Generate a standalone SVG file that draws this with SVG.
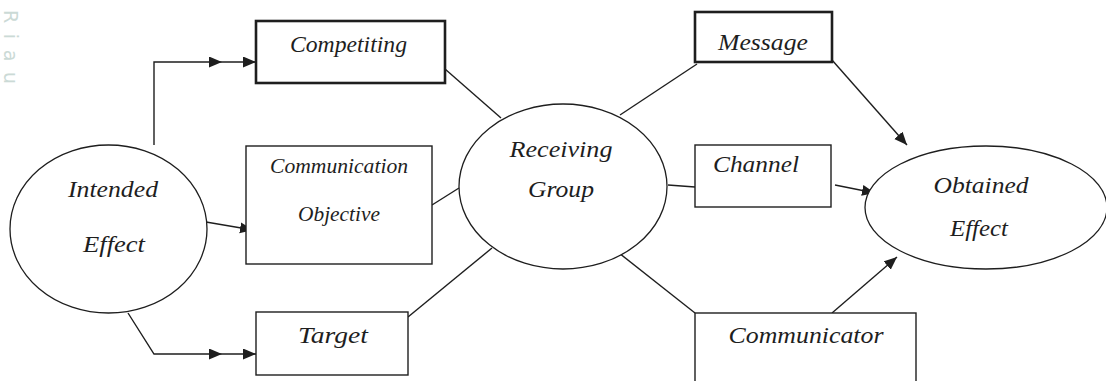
<svg xmlns="http://www.w3.org/2000/svg" width="1106" height="381" viewBox="0 0 1106 381">
  <style>
    .bg { fill: #ffffff; }
    .ell { fill: #ffffff; stroke: #1e1e1e; stroke-width: 1.3; }
    .box { fill: #ffffff; stroke: #1e1e1e; stroke-width: 1.4; }
    .thick { stroke-width: 2.6; }
    .lbl { font-family: "Liberation Serif", "Times New Roman", serif; font-style: italic; font-size: 24px; fill: #1e1e1e; text-anchor: middle; }
    .sm { font-size: 20.5px; }
    .conn { fill: none; stroke: #1e1e1e; stroke-width: 1.4; }
    .wm { font-family: "DejaVu Sans", "Liberation Sans", sans-serif; font-size: 19px; fill: #cbdad6; }
  </style>
  <defs>
    <marker id="arr" markerUnits="userSpaceOnUse" markerWidth="14" markerHeight="12" refX="13" refY="5.5" orient="auto">
      <path d="M0,0 L13,5.5 L0,11 z" fill="#1e1e1e"/>
    </marker>
  </defs>
  <rect class="bg" x="0" y="0" width="1106" height="381"/>
  <text class="wm" transform="translate(4,10) rotate(90)" textLength="74" lengthAdjust="spacing">Riau</text>

  <g id="connectors">
    <path class="conn" d="M154,145 V62 H222" marker-end="url(#arr)"/>
    <path class="conn" d="M222,62 H256" marker-end="url(#arr)"/>
    <path class="conn" d="M128,313 L154,354 H222" marker-end="url(#arr)"/>
    <path class="conn" d="M222,354 H256" marker-end="url(#arr)"/>
    <path class="conn" d="M206,222 L253,230" marker-end="url(#arr)"/>
    <path class="conn" d="M445,69 L501,118"/>
    <path class="conn" d="M432,205 L459,188"/>
    <path class="conn" d="M408,317 L492,248"/>
    <path class="conn" d="M697,64 L620,115"/>
    <path class="conn" d="M668,185 L695,187"/>
    <path class="conn" d="M619,253 L695,313"/>
    <path class="conn" d="M832,60 L907,145" marker-end="url(#arr)"/>
    <path class="conn" d="M835,185 L875,193" marker-end="url(#arr)"/>
    <path class="conn" d="M832,313 L897,257" marker-end="url(#arr)"/>
  </g>

  <g id="intended-effect">
    <ellipse class="ell" cx="108.5" cy="229" rx="98.5" ry="84"/>
    <text class="lbl" x="113" y="197" textLength="90" lengthAdjust="spacingAndGlyphs">Intended</text>
    <text class="lbl" x="114" y="252" textLength="62" lengthAdjust="spacingAndGlyphs">Effect</text>
  </g>

  <g id="competiting">
    <rect class="box thick" x="256" y="21" width="189" height="62"/>
    <text class="lbl" x="348.5" y="52" textLength="117" lengthAdjust="spacingAndGlyphs">Competiting</text>
  </g>

  <g id="communication-objective">
    <rect class="box" x="246" y="146" width="186" height="118"/>
    <text class="lbl sm" x="339" y="173" textLength="138" lengthAdjust="spacingAndGlyphs">Communication</text>
    <text class="lbl sm" x="339" y="221" textLength="82" lengthAdjust="spacingAndGlyphs">Objective</text>
  </g>

  <g id="target">
    <rect class="box" x="256" y="312" width="152" height="63"/>
    <text class="lbl" x="333" y="343" textLength="70" lengthAdjust="spacingAndGlyphs">Target</text>
  </g>

  <g id="receiving-group">
    <ellipse class="ell" cx="563" cy="186.5" rx="104" ry="82.5"/>
    <text class="lbl" x="561" y="157" textLength="103" lengthAdjust="spacingAndGlyphs">Receiving</text>
    <text class="lbl" x="561" y="197" textLength="66" lengthAdjust="spacingAndGlyphs">Group</text>
  </g>

  <g id="message">
    <rect class="box thick" x="695" y="12" width="137" height="50"/>
    <text class="lbl" x="763" y="50" textLength="90" lengthAdjust="spacingAndGlyphs">Message</text>
  </g>

  <g id="channel">
    <rect class="box" x="695" y="145" width="136" height="62"/>
    <text class="lbl" x="756" y="172" textLength="86" lengthAdjust="spacingAndGlyphs">Channel</text>
  </g>

  <g id="communicator">
    <rect class="box" x="695" y="313" width="221" height="80"/>
    <text class="lbl" x="806" y="343" textLength="155" lengthAdjust="spacingAndGlyphs">Communicator</text>
  </g>

  <g id="obtained-effect">
    <ellipse class="ell" cx="986" cy="207.5" rx="121" ry="61.5"/>
    <text class="lbl" x="981" y="193" textLength="95" lengthAdjust="spacingAndGlyphs">Obtained</text>
    <text class="lbl" x="979" y="236" textLength="58" lengthAdjust="spacingAndGlyphs">Effect</text>
  </g>
</svg>
